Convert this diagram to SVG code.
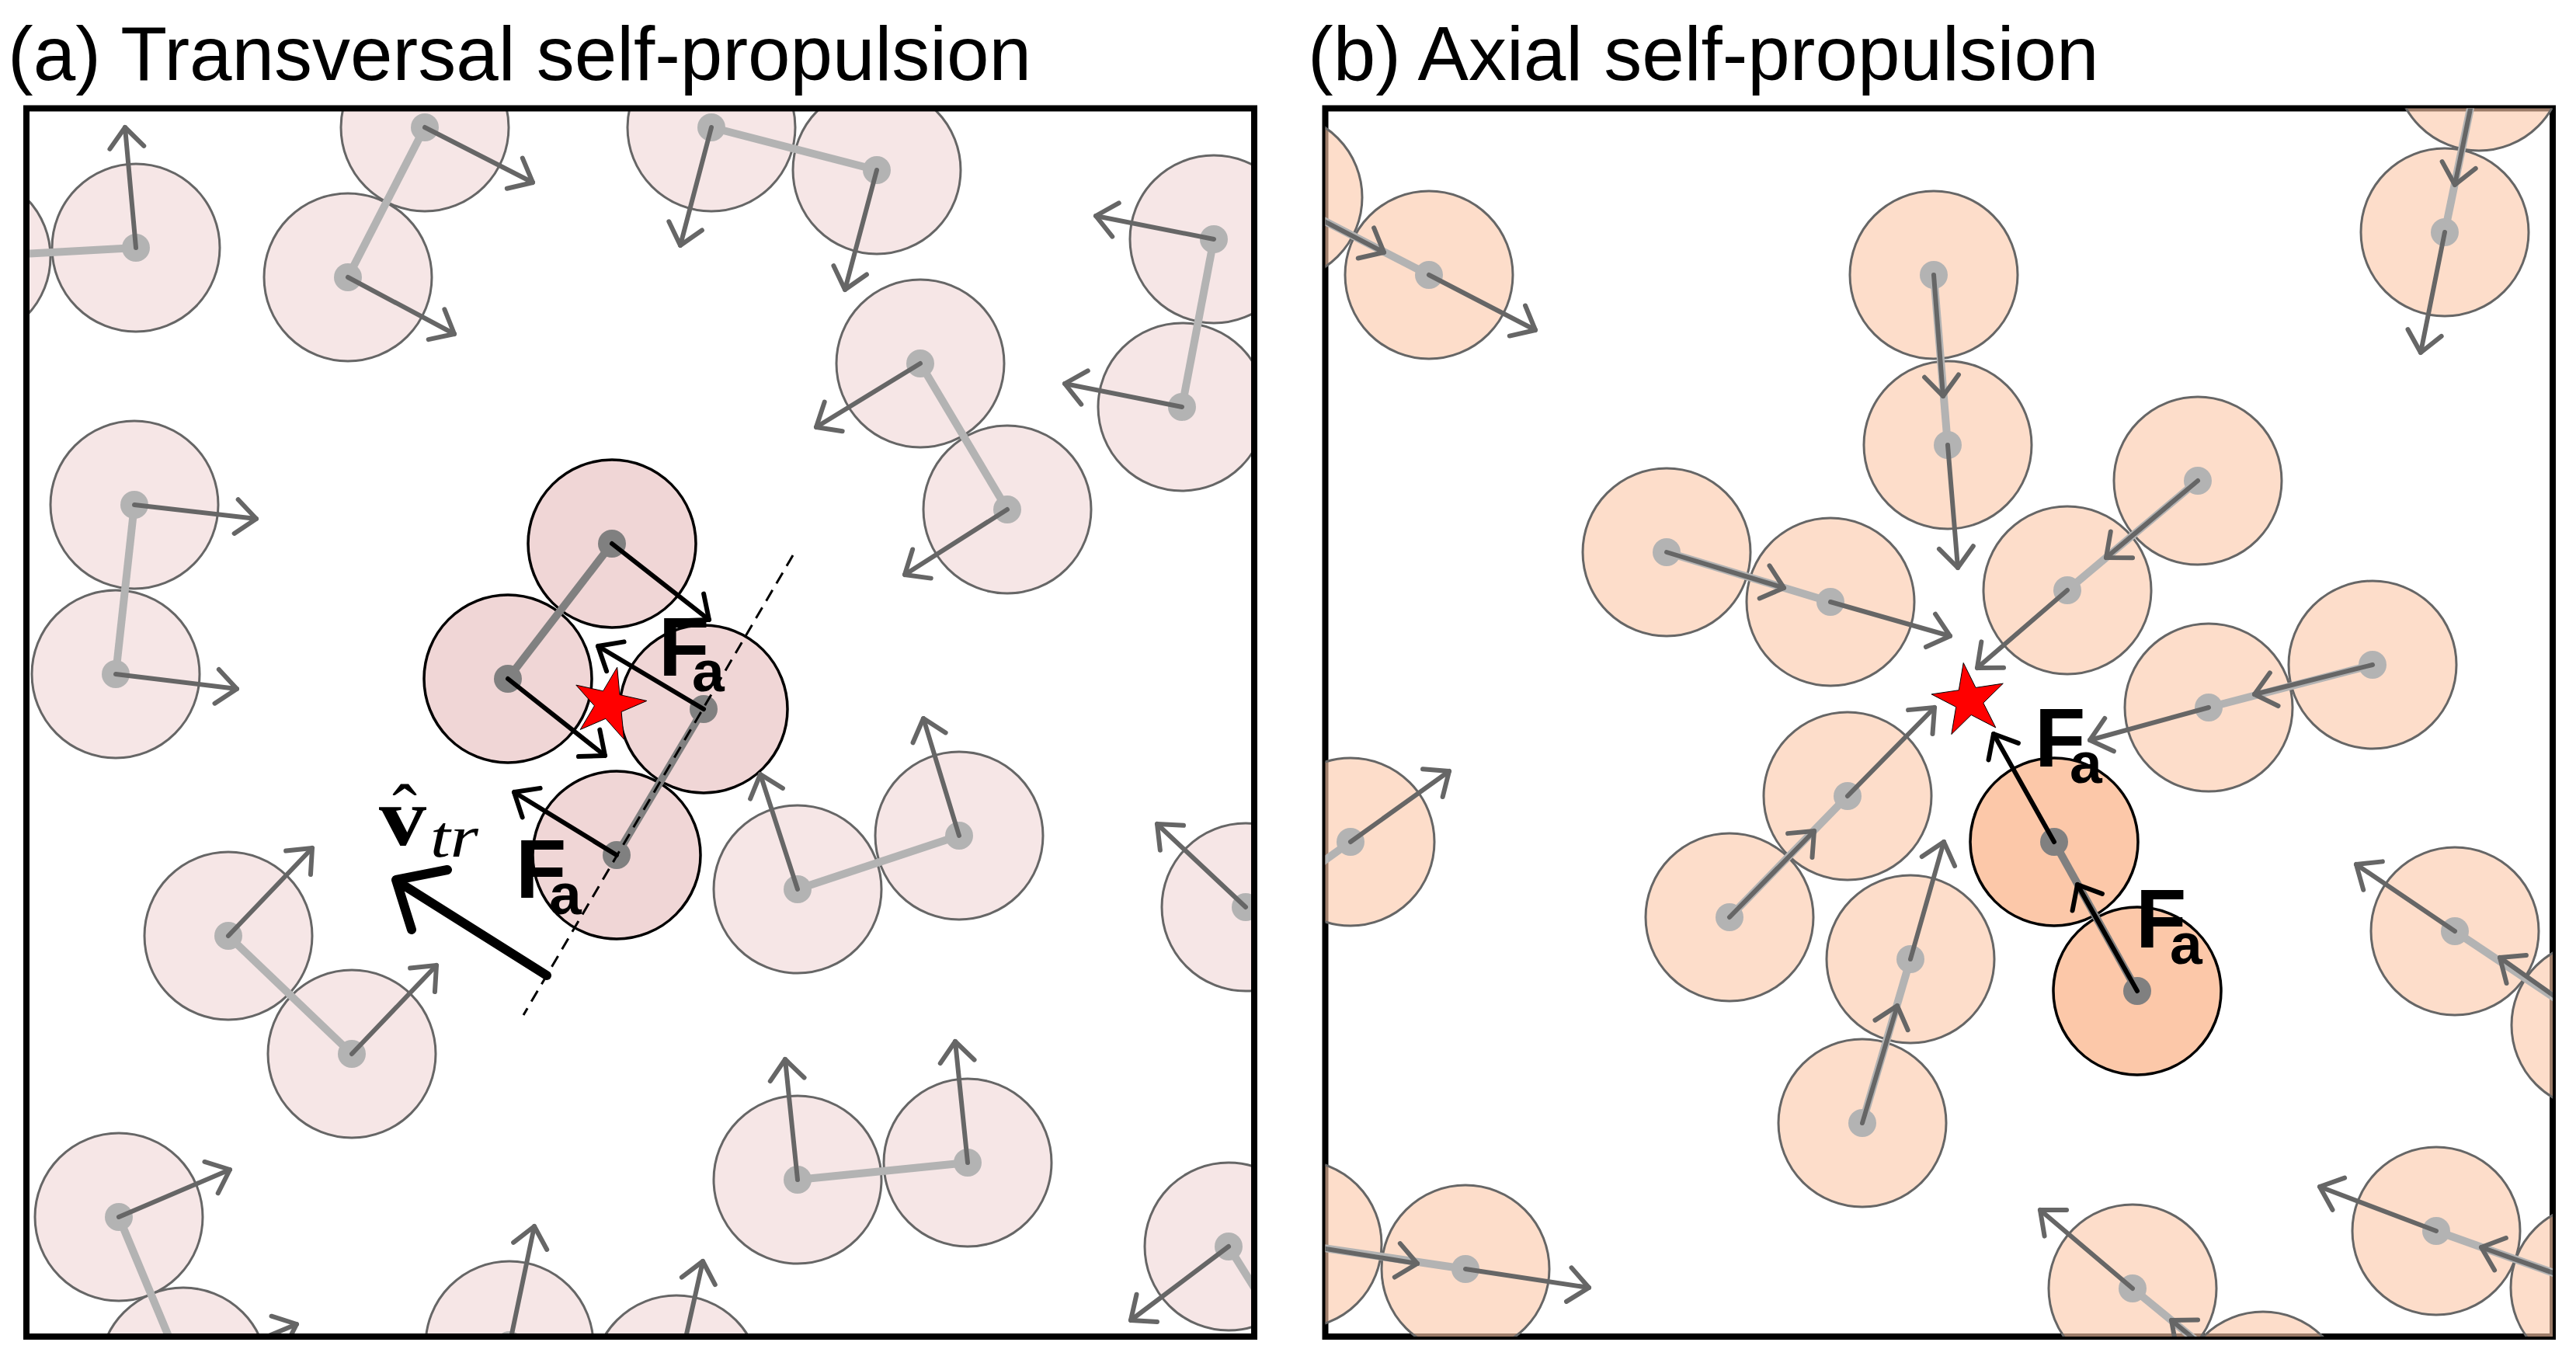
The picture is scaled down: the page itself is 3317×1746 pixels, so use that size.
<svg xmlns="http://www.w3.org/2000/svg" width="3317" height="1746" viewBox="0 0 3317 1746">
<style>
.pa{fill:#f0d6d6;fill-opacity:.616;stroke:#666;stroke-width:3}
.pb{fill:#fcc8a9;fill-opacity:.616;stroke:#666;stroke-width:3}
.pac{fill:#f0d6d6;stroke:#000;stroke-width:3.5}
.pbc{fill:#fcc8a9;stroke:#000;stroke-width:3.5}
.bond{stroke:#b3b3b3;stroke-width:10}
.bondc{stroke:#808080;stroke-width:10}
.dot{fill:#b3b3b3}
.dotc{fill:#808080}
.arr{stroke:#666;stroke-width:6;stroke-linecap:round;marker-end:url(#hg)}
.arrk{stroke:#000;stroke-width:6;stroke-linecap:round;marker-end:url(#hk)}
.frame{fill:none;stroke:#000;stroke-width:8}
.title{font-family:"Liberation Sans",Arial,sans-serif;font-size:98px;fill:#000}
.F{font-family:"Liberation Sans",Arial,sans-serif;font-weight:bold;font-size:107px;fill:#000}
.Fs{font-size:75px}
.star{fill:#ff0000;stroke:#000;stroke-width:1}
.math{font-family:"Liberation Serif","Times New Roman",serif;fill:#000}
</style>
<defs>
<marker id="hg" markerUnits="userSpaceOnUse" orient="auto" refX="0" refY="0" markerWidth="1" markerHeight="1" overflow="visible"><path d="M-26,-22 L0,0 L-26,22" fill="none" stroke="#666" stroke-width="6" stroke-linecap="round" stroke-linejoin="round"/></marker>
<marker id="hk" markerUnits="userSpaceOnUse" orient="auto" refX="0" refY="0" markerWidth="1" markerHeight="1" overflow="visible"><path d="M-26,-22 L0,0 L-26,22" fill="none" stroke="#000" stroke-width="6" stroke-linecap="round" stroke-linejoin="round"/></marker>
<clipPath id="clipA"><rect x="34" y="139.5" width="1581" height="1581.5"/></clipPath>
<clipPath id="clipB"><rect x="1706.5" y="139.5" width="1580.5" height="1581.5"/></clipPath>
</defs>
<rect width="3317" height="1746" fill="#fff"/>
<text class="title" x="10" y="103">(a) Transversal self-propulsion</text>
<text class="title" x="1684" y="103">(b) Axial self-propulsion</text>

<!-- Panel (a) -->
<g id="panel-a" clip-path="url(#clipA)">
<g id="a-c2">
<circle class="pac" cx="906" cy="913" r="108"/><circle class="pac" cx="794" cy="1101" r="108"/>
<line class="bondc" x1="906" y1="913" x2="794" y2="1101"/>
<circle class="dotc" cx="906" cy="913" r="18"/><circle class="dotc" cx="794" cy="1101" r="18"/>
<line class="arrk" x1="906" y1="913" x2="770" y2="832"/><line class="arrk" x1="794" y1="1101" x2="662" y2="1020"/>
</g>
<g id="a-c1">
<circle class="pac" cx="788" cy="700" r="108"/><circle class="pac" cx="654" cy="874" r="108"/>
<line class="bondc" x1="788" y1="700" x2="654" y2="874"/>
<circle class="dotc" cx="788" cy="700" r="18"/><circle class="dotc" cx="654" cy="874" r="18"/>
<line class="arrk" x1="788" y1="700" x2="913" y2="798"/><line class="arrk" x1="654" y1="874" x2="779" y2="973"/>
</g>
<g id="a1">
<circle class="pa" cx="175" cy="319" r="108"/><circle class="pa" cx="-43" cy="331" r="108"/>
<line class="bond" x1="175" y1="319" x2="-43" y2="331"/>
<circle class="dot" cx="175" cy="319" r="18"/><circle class="dot" cx="-43" cy="331" r="18"/>
<line class="arr" x1="175" y1="319" x2="161" y2="164"/><line class="arr" x1="-43" y1="331" x2="-57" y2="176"/>
</g>
<g id="a2">
<circle class="pa" cx="547" cy="164" r="108"/><circle class="pa" cx="448" cy="357" r="108"/>
<line class="bond" x1="547" y1="164" x2="448" y2="357"/>
<circle class="dot" cx="547" cy="164" r="18"/><circle class="dot" cx="448" cy="357" r="18"/>
<line class="arr" x1="547" y1="164" x2="686" y2="235"/><line class="arr" x1="448" y1="357" x2="585" y2="430"/>
</g>
<g id="a3">
<circle class="pa" cx="916" cy="164" r="108"/><circle class="pa" cx="1129" cy="219" r="108"/>
<line class="bond" x1="916" y1="164" x2="1129" y2="219"/>
<circle class="dot" cx="916" cy="164" r="18"/><circle class="dot" cx="1129" cy="219" r="18"/>
<line class="arr" x1="916" y1="164" x2="876" y2="316"/><line class="arr" x1="1129" y1="219" x2="1088" y2="373"/>
</g>
<g id="a4">
<circle class="pa" cx="1563" cy="308" r="108"/><circle class="pa" cx="1522" cy="524" r="108"/>
<line class="bond" x1="1563" y1="308" x2="1522" y2="524"/>
<circle class="dot" cx="1563" cy="308" r="18"/><circle class="dot" cx="1522" cy="524" r="18"/>
<line class="arr" x1="1563" y1="308" x2="1411" y2="278"/><line class="arr" x1="1522" y1="524" x2="1371" y2="494"/>
</g>
<g id="a5">
<circle class="pa" cx="1185" cy="468" r="108"/><circle class="pa" cx="1297" cy="656" r="108"/>
<line class="bond" x1="1185" y1="468" x2="1297" y2="656"/>
<circle class="dot" cx="1185" cy="468" r="18"/><circle class="dot" cx="1297" cy="656" r="18"/>
<line class="arr" x1="1185" y1="468" x2="1051" y2="550"/><line class="arr" x1="1297" y1="656" x2="1165" y2="740"/>
</g>
<g id="a6">
<circle class="pa" cx="173" cy="650" r="108"/><circle class="pa" cx="149" cy="868" r="108"/>
<line class="bond" x1="173" y1="650" x2="149" y2="868"/>
<circle class="dot" cx="173" cy="650" r="18"/><circle class="dot" cx="149" cy="868" r="18"/>
<line class="arr" x1="173" y1="650" x2="330" y2="668"/><line class="arr" x1="149" y1="868" x2="305" y2="887"/>
</g>
<g id="a7">
<circle class="pa" cx="294" cy="1205" r="108"/><circle class="pa" cx="453" cy="1357" r="108"/>
<line class="bond" x1="294" y1="1205" x2="453" y2="1357"/>
<circle class="dot" cx="294" cy="1205" r="18"/><circle class="dot" cx="453" cy="1357" r="18"/>
<line class="arr" x1="294" y1="1205" x2="402" y2="1092"/><line class="arr" x1="453" y1="1357" x2="562" y2="1243"/>
</g>
<g id="a8">
<circle class="pa" cx="1027" cy="1145" r="108"/><circle class="pa" cx="1235" cy="1076" r="108"/>
<line class="bond" x1="1027" y1="1145" x2="1235" y2="1076"/>
<circle class="dot" cx="1027" cy="1145" r="18"/><circle class="dot" cx="1235" cy="1076" r="18"/>
<line class="arr" x1="1027" y1="1145" x2="979" y2="997"/><line class="arr" x1="1235" y1="1076" x2="1189" y2="925"/>
</g>
<g id="a9">
<circle class="pa" cx="1604" cy="1168" r="108"/><circle class="pa" cx="1752" cy="1010" r="108"/>
<line class="bond" x1="1604" y1="1168" x2="1752" y2="1010"/>
<circle class="dot" cx="1604" cy="1168" r="18"/>
<line class="arr" x1="1604" y1="1168" x2="1490" y2="1061"/>
</g>
<g id="a10">
<circle class="pa" cx="1027" cy="1519" r="108"/><circle class="pa" cx="1246" cy="1497" r="108"/>
<line class="bond" x1="1027" y1="1519" x2="1246" y2="1497"/>
<circle class="dot" cx="1027" cy="1519" r="18"/><circle class="dot" cx="1246" cy="1497" r="18"/>
<line class="arr" x1="1027" y1="1519" x2="1011" y2="1364"/><line class="arr" x1="1246" y1="1497" x2="1230" y2="1341"/>
</g>
<g id="a11">
<circle class="pa" cx="153" cy="1567" r="108"/><circle class="pa" cx="236" cy="1766" r="108"/>
<line class="bond" x1="153" y1="1567" x2="236" y2="1766"/>
<circle class="dot" cx="153" cy="1567" r="18"/><circle class="dot" cx="236" cy="1766" r="18"/>
<line class="arr" x1="153" y1="1567" x2="296" y2="1506"/><line class="arr" x1="236" y1="1766" x2="382" y2="1705"/>
</g>
<g id="a12">
<circle class="pa" cx="656" cy="1732" r="108"/><circle class="pa" cx="871" cy="1776" r="108"/>
<line class="bond" x1="656" y1="1732" x2="871" y2="1776"/>
<circle class="dot" cx="656" cy="1732" r="18"/><circle class="dot" cx="871" cy="1776" r="18"/>
<line class="arr" x1="656" y1="1732" x2="688" y2="1579"/><line class="arr" x1="871" y1="1776" x2="905" y2="1624"/>
</g>
<g id="a13">
<circle class="pa" cx="1582" cy="1605" r="108"/><circle class="pa" cx="1697" cy="1789" r="108"/>
<line class="bond" x1="1582" y1="1605" x2="1697" y2="1789"/>
<circle class="dot" cx="1582" cy="1605" r="18"/>
<line class="arr" x1="1582" y1="1605" x2="1456" y2="1700"/>
</g>
</g>
<rect id="frame-a" class="frame" x="34" y="139.5" width="1581" height="1581.5"/>
<g id="annot-a">
<line x1="1021" y1="715" x2="674" y2="1307" stroke="#000" stroke-width="3" stroke-dasharray="16 10"/>
<polygon id="star-a" class="star" points="794.7,859.2 798.0,894.6 832.8,902.4 800.1,916.5 803.5,952.0 779.9,925.3 747.2,939.4 765.4,908.8 741.8,882.1 776.6,889.8"/>
<path id="vtr-arrow" d="M704,1256 L512,1135 M530,1197 L510,1133 L576,1120" fill="none" stroke="#000" stroke-width="12" stroke-linecap="round" stroke-linejoin="round"/>
<text id="vtr-label" class="math"><tspan x="488" y="1088" font-weight="bold" font-size="106" textLength="61" lengthAdjust="spacingAndGlyphs">v</tspan><tspan x="521" y="1076" text-anchor="middle" font-size="96">ˆ</tspan><tspan x="554" y="1103" font-style="italic" font-size="76" textLength="62" lengthAdjust="spacingAndGlyphs">tr</tspan></text>
<text class="F" x="848" y="870">F<tspan class="Fs" x="891" y="890">a</tspan></text>
<text class="F" x="664" y="1156">F<tspan class="Fs" x="707" y="1177">a</tspan></text>
</g>

<!-- Panel (b) -->
<rect id="frame-b" class="frame" x="1706.5" y="139.5" width="1580.5" height="1581.5"/>
<g id="panel-b" clip-path="url(#clipB)">
<g id="b-c">
<circle class="pbc" cx="2645" cy="1084" r="108"/><circle class="pbc" cx="2752" cy="1276" r="108"/>
<line class="bondc" x1="2645" y1="1084" x2="2752" y2="1276"/>
<circle class="dotc" cx="2645" cy="1084" r="18"/><circle class="dotc" cx="2752" cy="1276" r="18"/>
<line class="arrk" x1="2645" y1="1084" x2="2567" y2="945"/><line class="arrk" x1="2752" y1="1276" x2="2675" y2="1139"/>
</g>
<g id="b1">
<circle class="pb" cx="1840" cy="354" r="108"/><circle class="pb" cx="1646" cy="254" r="108"/>
<line class="bond" x1="1840" y1="354" x2="1646" y2="254"/>
<circle class="dot" cx="1840" cy="354" r="18"/><circle class="dot" cx="1646" cy="254" r="18"/>
<line class="arr" x1="1840" y1="354" x2="1977" y2="425"/><line class="arr" x1="1646" y1="254" x2="1782" y2="325"/>
</g>
<g id="b2">
<circle class="pb" cx="2490" cy="354" r="108"/><circle class="pb" cx="2508" cy="573" r="108"/>
<line class="bond" x1="2490" y1="354" x2="2508" y2="573"/>
<circle class="dot" cx="2490" cy="354" r="18"/><circle class="dot" cx="2508" cy="573" r="18"/>
<line class="arr" x1="2490" y1="354" x2="2502" y2="510"/><line class="arr" x1="2508" y1="573" x2="2521" y2="731"/>
</g>
<g id="b3">
<circle class="pb" cx="3192" cy="86" r="108"/><circle class="pb" cx="3148" cy="299" r="108"/>
<line class="bond" x1="3192" y1="86" x2="3148" y2="299"/>
<circle class="dot" cx="3192" cy="86" r="18"/><circle class="dot" cx="3148" cy="299" r="18"/>
<line class="arr" x1="3192" y1="86" x2="3161" y2="238"/><line class="arr" x1="3148" y1="299" x2="3117" y2="454"/>
</g>
<g id="b4">
<circle class="pb" cx="2146" cy="711" r="108"/><circle class="pb" cx="2357" cy="775" r="108"/>
<line class="bond" x1="2146" y1="711" x2="2357" y2="775"/>
<circle class="dot" cx="2146" cy="711" r="18"/><circle class="dot" cx="2357" cy="775" r="18"/>
<line class="arr" x1="2146" y1="711" x2="2297" y2="757"/><line class="arr" x1="2357" y1="775" x2="2511" y2="819"/>
</g>
<g id="b5">
<circle class="pb" cx="2830" cy="619" r="108"/><circle class="pb" cx="2662" cy="760" r="108"/>
<line class="bond" x1="2830" y1="619" x2="2662" y2="760"/>
<circle class="dot" cx="2830" cy="619" r="18"/><circle class="dot" cx="2662" cy="760" r="18"/>
<line class="arr" x1="2830" y1="619" x2="2712" y2="718"/><line class="arr" x1="2662" y1="760" x2="2546" y2="860"/>
</g>
<g id="b6">
<circle class="pb" cx="3055" cy="856" r="108"/><circle class="pb" cx="2844" cy="911" r="108"/>
<line class="bond" x1="3055" y1="856" x2="2844" y2="911"/>
<circle class="dot" cx="3055" cy="856" r="18"/><circle class="dot" cx="2844" cy="911" r="18"/>
<line class="arr" x1="3055" y1="856" x2="2903" y2="894"/><line class="arr" x1="2844" y1="911" x2="2691" y2="953"/>
</g>
<g id="b7">
<circle class="pb" cx="2379" cy="1025" r="108"/><circle class="pb" cx="2227" cy="1181" r="108"/>
<line class="bond" x1="2379" y1="1025" x2="2227" y2="1181"/>
<circle class="dot" cx="2379" cy="1025" r="18"/><circle class="dot" cx="2227" cy="1181" r="18"/>
<line class="arr" x1="2379" y1="1025" x2="2491" y2="911"/><line class="arr" x1="2227" y1="1181" x2="2336" y2="1070"/>
</g>
<g id="b8">
<circle class="pb" cx="2460" cy="1235" r="108"/><circle class="pb" cx="2398" cy="1446" r="108"/>
<line class="bond" x1="2460" y1="1235" x2="2398" y2="1446"/>
<circle class="dot" cx="2460" cy="1235" r="18"/><circle class="dot" cx="2398" cy="1446" r="18"/>
<line class="arr" x1="2460" y1="1235" x2="2503" y2="1084"/><line class="arr" x1="2398" y1="1446" x2="2443" y2="1295"/>
</g>
<g id="b10">
<circle class="pb" cx="1739" cy="1084" r="108"/><circle class="pb" cx="1562" cy="1211" r="108"/>
<line class="bond" x1="1739" y1="1084" x2="1562" y2="1211"/>
<circle class="dot" cx="1739" cy="1084" r="18"/>
<line class="arr" x1="1739" y1="1084" x2="1866" y2="993"/>
</g>
<g id="b11">
<circle class="pb" cx="3161" cy="1199" r="108"/><circle class="pb" cx="3342" cy="1320" r="108"/>
<line class="bond" x1="3161" y1="1199" x2="3342" y2="1320"/>
<circle class="dot" cx="3161" cy="1199" r="18"/><circle class="dot" cx="3342" cy="1320" r="18"/>
<line class="arr" x1="3161" y1="1199" x2="3034" y2="1113"/><line class="arr" x1="3342" y1="1320" x2="3219" y2="1233"/>
</g>
<g id="b12">
<circle class="pb" cx="3137" cy="1585" r="108"/><circle class="pb" cx="3341" cy="1658" r="108"/>
<line class="bond" x1="3137" y1="1585" x2="3341" y2="1658"/>
<circle class="dot" cx="3137" cy="1585" r="18"/><circle class="dot" cx="3341" cy="1658" r="18"/>
<line class="arr" x1="3137" y1="1585" x2="2987" y2="1528"/><line class="arr" x1="3341" y1="1658" x2="3195" y2="1606"/>
</g>
<g id="b13">
<circle class="pb" cx="2746" cy="1659" r="108"/><circle class="pb" cx="2914" cy="1797" r="108"/>
<line class="bond" x1="2746" y1="1659" x2="2914" y2="1797"/>
<circle class="dot" cx="2746" cy="1659" r="18"/><circle class="dot" cx="2914" cy="1797" r="18"/>
<line class="arr" x1="2746" y1="1659" x2="2627" y2="1558"/><line class="arr" x1="2914" y1="1797" x2="2796" y2="1700"/>
</g>
<g id="b14">
<circle class="pb" cx="1887" cy="1634" r="108"/><circle class="pb" cx="1671" cy="1602" r="108"/>
<line class="bond" x1="1887" y1="1634" x2="1671" y2="1602"/>
<circle class="dot" cx="1887" cy="1634" r="18"/><circle class="dot" cx="1671" cy="1602" r="18"/>
<line class="arr" x1="1887" y1="1634" x2="2046" y2="1658"/><line class="arr" x1="1671" y1="1602" x2="1825" y2="1627"/>
</g>
</g>
<g id="annot-b">
<polygon id="star-b" class="star" points="2528.2,853.5 2544.0,885.4 2579.3,880.1 2553.8,905.1 2569.8,936.9 2538.2,920.5 2512.8,945.5 2518.7,910.3 2487.1,893.9 2522.3,888.7"/>
<text class="F" x="2620" y="987">F<tspan class="Fs" x="2665" y="1008">a</tspan></text>
<text class="F" x="2750" y="1220">F<tspan class="Fs" x="2794" y="1241">a</tspan></text>
</g>
</svg>
